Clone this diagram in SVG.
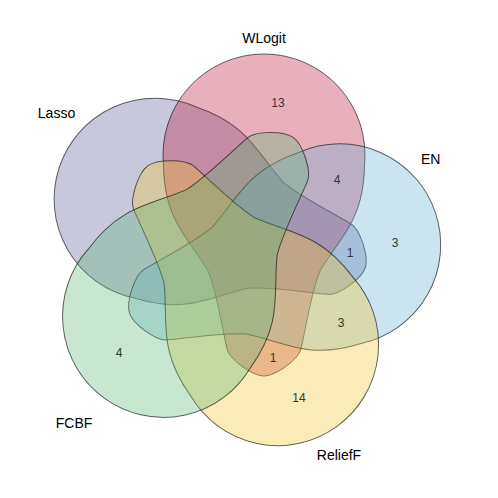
<svg xmlns="http://www.w3.org/2000/svg" width="498" height="498" viewBox="0 0 498 498">
<style>
.shape{stroke:#000;stroke-opacity:0.6;stroke-width:1;fill-opacity:0.33}
.lbl{font-family:"Liberation Sans",Arial,sans-serif;font-size:14px;fill:#000;text-anchor:middle}
.cnt{font-family:"Liberation Sans",Arial,sans-serif;font-size:12px;fill:#333;text-anchor:middle}
</style>
<defs>
<path id="petal" d="M -100.5 10 A 101 101 0 1 1 100.5 10 C 100 65 76 82 56 116 C 48 135 42 172 37 194 C 34.7 204 12 221 0 221 C -12 221 -34.7 204 -37 194 C -42 172 -48 135 -56 116 C -76 82 -100 65 -100.5 10 Z"/>
</defs>
<rect width="498" height="498" fill="#fff"/>
<g id="lasso">
<use href="#petal" class="shape" fill="#585895" transform="rotate(-72 240 252) translate(264 155)"/>
<text class="lbl" x="56.5" y="118">Lasso</text>
</g>
<g id="wlogit">
<use href="#petal" class="shape" fill="#b91034" transform="translate(264 155)"/>
<text class="lbl" x="264" y="43">WLogit</text>
</g>
<g id="en">
<use href="#petal" class="shape" fill="#64add1" transform="rotate(72 240 252) translate(264 155)"/>
<text class="lbl" x="430.7" y="164">EN</text>
</g>
<g id="relieff">
<use href="#petal" class="shape" fill="#f0c528" transform="rotate(144 240 252) translate(264 155)"/>
<text class="lbl" x="339" y="460">ReliefF</text>
</g>
<g id="fcbf">
<use href="#petal" class="shape" fill="#58b371" transform="rotate(216 240 252) translate(264 155)"/>
<text class="lbl" x="74" y="428">FCBF</text>
</g>
<g id="connectors"></g>
<g id="counts">
<text class="cnt" x="278" y="107">13</text>
<text class="cnt" x="337" y="183.5">4</text>
<text class="cnt" x="395" y="247">3</text>
<text class="cnt" x="350" y="257">1</text>
<text class="cnt" x="341" y="327">3</text>
<text class="cnt" x="273" y="362">1</text>
<text class="cnt" x="299" y="401.5">14</text>
<text class="cnt" x="119" y="356.5">4</text>
</g>
</svg>
